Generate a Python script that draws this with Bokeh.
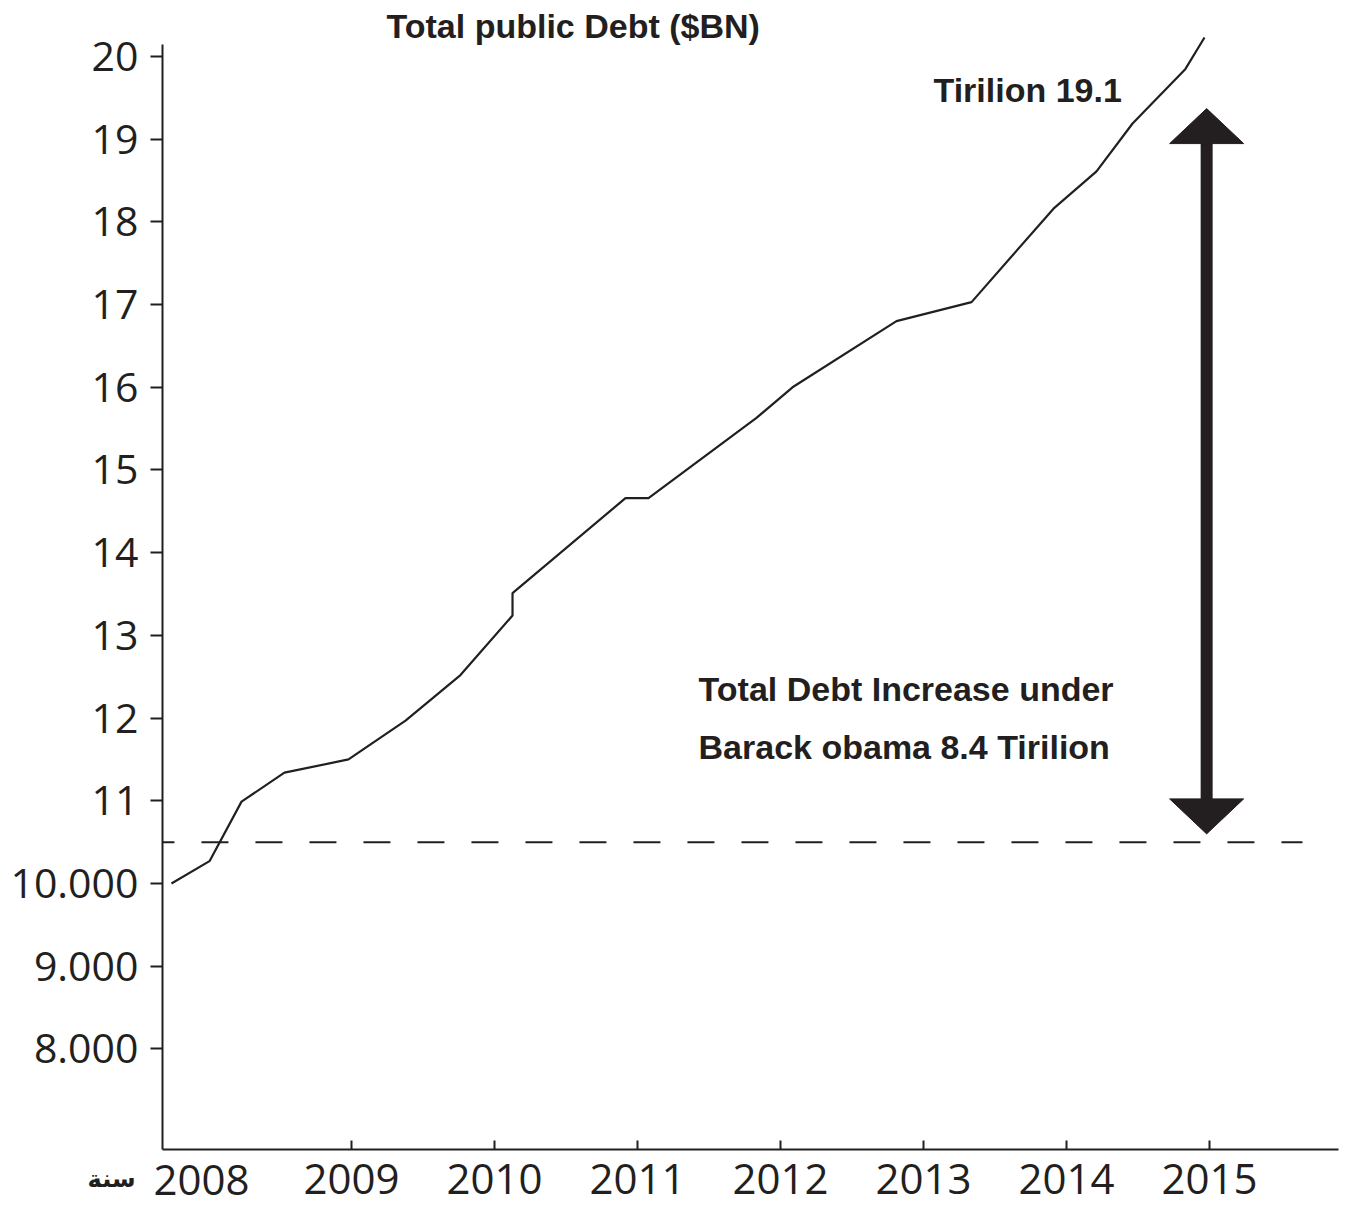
from bokeh.plotting import figure
from bokeh.models import Range1d, FixedTicker, Label
from bokeh.embed import file_html
from bokeh.resources import INLINE

# ---- data ----
years = [2007.741, 2008.007, 2008.231, 2008.531, 2008.979, 2009.378, 2009.762,
         2010.126, 2010.126, 2010.916, 2011.077, 2011.832, 2012.084, 2012.811,
         2013.336, 2013.909, 2014.210, 2014.462, 2014.832, 2014.965]
debt = [10.00, 10.27, 10.99, 11.34, 11.50, 11.97, 12.52,
        13.24, 13.51, 14.66, 14.66, 15.63, 16.00, 16.80,
        17.03, 18.16, 18.61, 19.19, 19.85, 20.23]

x_ticks = [2009, 2010, 2011, 2012, 2013, 2014, 2015]
x_tick_labels = ["2009", "2010", "2011", "2012", "2013", "2014", "2015"]
first_year_label = "2008"
first_year = 2007.951
y_ticks = [8, 9, 10, 11, 12, 13, 14, 15, 16, 17, 18, 19, 20]
y_tick_labels = ["8.000", "9.000", "10.000", "11", "12", "13", "14", "15",
                 "16", "17", "18", "19", "20"]

obama_start_level = 10.5
arrow_x = 2014.98
arrow_top = 19.37
arrow_bottom = 10.60

title_text = "Total public Debt ($BN)"
top_note = "Tirilion 19.1"
note_line1 = "Total  Debt Increase under"
note_line2 = "Barack obama 8.4 Tirilion"
axis_word = "سنة"

INK = "#231f20"
W, H = 1346, 1206
# visible axes extent
AX_X0, AX_X1 = 2007.678, 2015.902
AX_Y0, AX_Y1 = 6.784, 20.15
# plotting frame covers whole canvas
X0, X1 = 2006.5455, 2015.958
Y0, Y1 = 6.0943, 20.677
px_per_x = W / (X1 - X0)
px_per_y = H / (Y1 - Y0)

p = figure(width=W, height=H, output_backend="svg", toolbar_location=None,
           x_range=Range1d(X0, X1), y_range=Range1d(Y0, Y1),
           min_border_left=0, min_border_right=0, min_border_top=0,
           min_border_bottom=0)
p.outline_line_color = None
p.grid.visible = False
p.background_fill_color = "white"
p.border_fill_color = "white"

for ax in (p.xaxis[0], p.yaxis[0]):
    ax.axis_line_color = INK
    ax.axis_line_width = 2
    ax.major_tick_line_color = INK
    ax.major_tick_line_width = 2
    ax.minor_tick_line_color = None
    ax.major_label_text_color = INK
    ax.major_label_text_font = "Open Sans"

xa = p.xaxis[0]
xa.fixed_location = AX_Y0
xa.bounds = (AX_X0, AX_X1)
xa.ticker = FixedTicker(ticks=x_ticks)
xa.major_label_overrides = {t: l for t, l in zip(x_ticks, x_tick_labels)}
xa.major_tick_in = 9
xa.major_tick_out = 0
xa.major_label_text_font_size = "42px"
xa.major_label_standoff = 15

ya = p.yaxis[0]
ya.fixed_location = AX_X0
ya.bounds = (AX_Y0, AX_Y1)
ya.ticker = FixedTicker(ticks=y_ticks)
ya.major_label_overrides = {t: l for t, l in zip(y_ticks, y_tick_labels)}
ya.major_tick_in = 0
ya.major_tick_out = 12
ya.major_label_text_font_size = "41px"
ya.major_label_standoff = 12

# dashed reference line (debt level when Obama took office)
p.line([AX_X0, 2015.65], [obama_start_level, obama_start_level], line_color=INK,
       line_width=2, line_dash="27 27", line_dash_offset=15)

# debt line
p.line(years, debt, line_color=INK, line_width=2.2)

# double arrow
head_half_w = 37 / px_per_x
head_h = 35 / px_per_y
p.segment(x0=[arrow_x], y0=[arrow_top - head_h + 0.05], x1=[arrow_x],
          y1=[arrow_bottom + head_h - 0.05], line_color=INK, line_width=12)
p.patches(
    xs=[[arrow_x - head_half_w, arrow_x, arrow_x + head_half_w],
        [arrow_x - head_half_w, arrow_x, arrow_x + head_half_w]],
    ys=[[arrow_top - head_h, arrow_top, arrow_top - head_h],
        [arrow_bottom + head_h, arrow_bottom, arrow_bottom + head_h]],
    fill_color=INK, line_color=INK, line_width=1)

def lab(x, y, text, size, font="Liberation Sans", style="bold", align="left"):
    # small empirical lift so the alphabetic baseline lands where intended
    lift = 0.38 * size / px_per_y
    p.add_layout(Label(x=x, y=y + lift, text=text, text_font=font,
                       text_font_size=f"{size}px", text_font_style=style,
                       text_color=INK, text_align=align,
                       text_baseline="alphabetic"))

lab(2009.245, 20.217, title_text, 34)
lab(2013.07, 19.444, top_note, 34)
lab(2011.427, 12.19, note_line1, 34)
lab(2011.427, 11.49, note_line2, 34)
lab(first_year, 6.227, first_year_label, 42, font="Open Sans", style="normal",
    align="center")
lab(2007.49, 6.312, axis_word, 24, font="DejaVu Sans", style="bold",
    align="right")

open("out.html", "w").write(file_html(p, INLINE))
